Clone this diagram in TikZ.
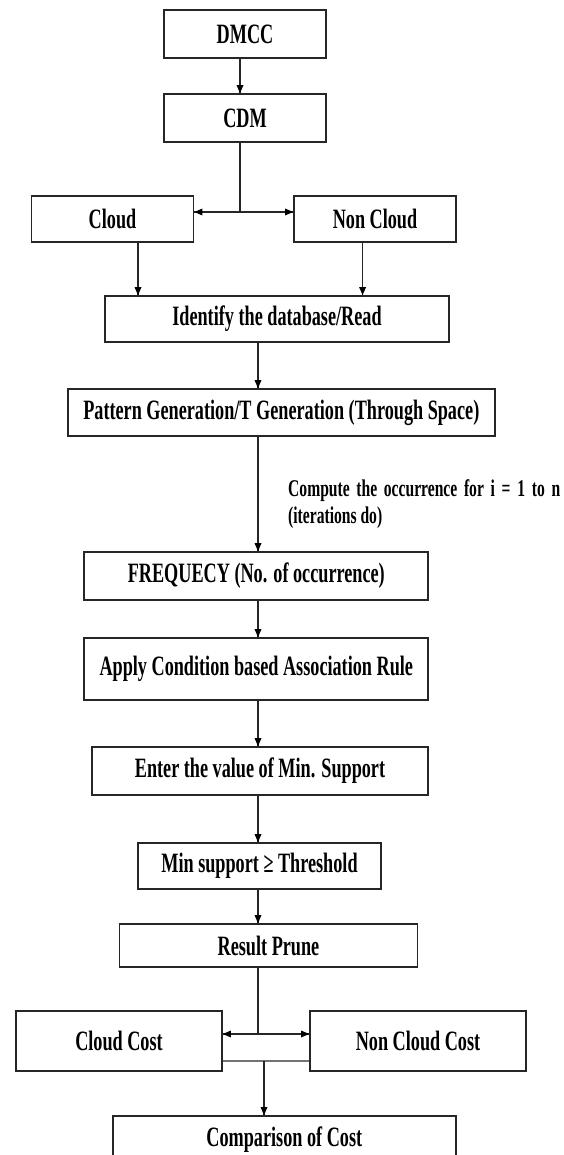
\documentclass[tikz,border=0pt]{standalone}
\usepackage{fontspec}
\setmainfont{Liberation Serif}[FakeStretch=0.65]
\usepackage{tikz}

\begin{document}
\begin{tikzpicture}[x=1pt,y=1pt]
\tikzstyle{every node}+=[inner sep=0pt]
\tikzstyle{stage}=[draw=black!85, line width=1.8pt, font=\fontsize{28}{32}\selectfont\bfseries]
\tikzstyle{link}=[black!85, line width=1.2pt]
\useasboundingbox (0,0) rectangle (563,-1155);
% boxes
\node [stage, minimum width=162, minimum height=48] (dmcc) at (245,-34) {DMCC};
\node [stage, minimum width=162, minimum height=48] (cdm) at (245,-118) {CDM};
\node [stage, minimum width=162, minimum height=46] (cloud) at (112.5,-219) {Cloud};
\node [stage, minimum width=162, minimum height=46] (noncloud) at (375,-219) {Non Cloud};
\node [stage, minimum width=344, minimum height=46] (identify) at (277,-319) {Identify the database/Read};
\node [stage, minimum width=427, minimum height=47] (pattern) at (281.3,-412.5) {Pattern Generation/T Generation (Through Space)};
\node [stage, minimum width=344, minimum height=48] (freq) at (256.3,-576) {FREQUECY (No. of occurrence)};
\node [stage, minimum width=344, minimum height=62] (apply) at (256.3,-669) {Apply Condition based Association Rule};
\node [stage, minimum width=336, minimum height=48] (enter) at (260,-771) {Enter the value of Min. Support};
\node [stage, minimum width=243, minimum height=46] (minsup) at (259.5,-866) {Min support ≥ Threshold};
\node [stage, minimum width=298, minimum height=43] (prune) at (268.5,-945.5) {Result Prune};
\node [stage, minimum width=206, minimum height=60] (cloudcost) at (119,-1041) {Cloud Cost};
\node [stage, minimum width=216, minimum height=60] (noncloudcost) at (418,-1041) {Non Cloud Cost};
\node [stage, minimum width=343, minimum height=48] (compare) at (284.3,-1140) {Comparison of Cost};
\node [anchor=north west, align=left, font=\fontsize{24}{27}\selectfont\bfseries] (iter) at (288,-479)
  {\makebox[272pt][s]{Compute the occurrence for i = 1 to n}\\(iterations do)};
% connectors
\coordinate (spine) at (258,0);
\coordinate (split1) at (240,-212);
\coordinate (split2) at (258,-1034);
\coordinate (join) at (264,-1061);
\draw [link] ([xshift=-5]dmcc.south) -- ([xshift=-5]cdm.north);
\fill [black] ([xshift=-5]cdm.north) -- ++(-3.5,8) -- ++(7,0) -- cycle;
\draw [link] ([xshift=-5]cdm.south) -- (split1);
\draw [link] (cloud.east |- split1) -- (noncloud.west |- split1);
\fill [black] (cloud.east |- split1) -- ++(8,3.5) -- ++(0,-7) -- cycle;
\fill [black] (noncloud.west |- split1) -- ++(-8,3.5) -- ++(0,-7) -- cycle;
\draw [link] ([xshift=25.5]cloud.south) -- ([xshift=25.5]cloud.south |- identify.north);
\fill [black] ([xshift=25.5]cloud.south |- identify.north) -- ++(-3.5,8) -- ++(7,0) -- cycle;
\draw [link] ([xshift=-12.4]noncloud.south) -- ([xshift=-12.4]noncloud.south |- identify.north);
\fill [black] ([xshift=-12.4]noncloud.south |- identify.north) -- ++(-3.5,8) -- ++(7,0) -- cycle;
\draw [link] (spine |- identify.south) -- (spine |- pattern.north);
\fill [black] (spine |- pattern.north) -- ++(-3.5,8) -- ++(7,0) -- cycle;
\draw [link] (spine |- pattern.south) -- (spine |- freq.north);
\fill [black] (spine |- freq.north) -- ++(-3.5,8) -- ++(7,0) -- cycle;
\draw [link] (spine |- freq.south) -- (spine |- apply.north);
\fill [black] (spine |- apply.north) -- ++(-3.5,8) -- ++(7,0) -- cycle;
\draw [link] (spine |- apply.south) -- (spine |- enter.north);
\fill [black] (spine |- enter.north) -- ++(-3.5,8) -- ++(7,0) -- cycle;
\draw [link] (spine |- enter.south) -- (spine |- minsup.north);
\fill [black] (spine |- minsup.north) -- ++(-3.5,8) -- ++(7,0) -- cycle;
\draw [link] (spine |- minsup.south) -- (spine |- prune.north);
\fill [black] (spine |- prune.north) -- ++(-3.5,8) -- ++(7,0) -- cycle;
\draw [link] (spine |- prune.south) -- (split2);
\draw [link] (cloudcost.east |- split2) -- (noncloudcost.west |- split2);
\fill [black] (cloudcost.east |- split2) -- ++(8,3.5) -- ++(0,-7) -- cycle;
\fill [black] (noncloudcost.west |- split2) -- ++(-8,3.5) -- ++(0,-7) -- cycle;
\draw [black!55, line width=1.6pt] (cloudcost.east |- join) -- (noncloudcost.west |- join);
\draw [link] (join) -- (join |- compare.north);
\fill [black] (join |- compare.north) -- ++(-3.5,8) -- ++(7,0) -- cycle;
\end{tikzpicture}
\end{document}
